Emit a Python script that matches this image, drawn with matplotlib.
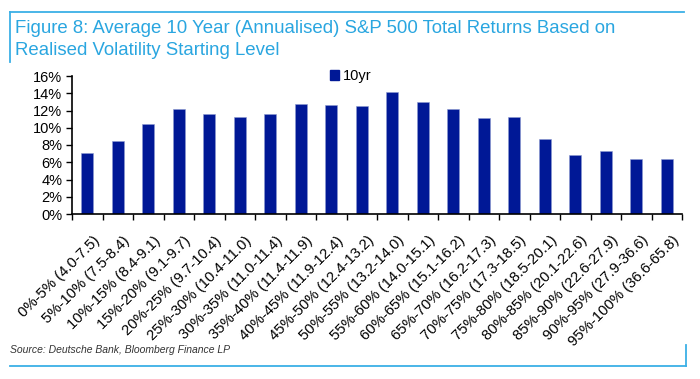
import matplotlib
matplotlib.use("Agg")
import matplotlib.pyplot as plt
from matplotlib.ticker import FixedLocator, FuncFormatter
from matplotlib.lines import Line2D
from matplotlib.patches import Patch
import matplotlib.transforms as mtransforms

categories = ["0%-5% (4.0-7.5)", "5%-10% (7.5-8.4)", "10%-15% (8.4-9.1)", "15%-20% (9.1-9.7)",
              "20%-25% (9.7-10.4)", "25%-30% (10.4-11.0)", "30%-35% (11.0-11.4)", "35%-40% (11.4-11.9)",
              "40%-45% (11.9-12.4)", "45%-50% (12.4-13.2)", "50%-55% (13.2-14.0)", "55%-60% (14.0-15.1)",
              "60%-65% (15.1-16.2)", "65%-70% (16.2-17.3)", "70%-75% (17.3-18.5)", "75%-80% (18.5-20.1)",
              "80%-85% (20.1-22.6)", "85%-90% (22.6-27.9)", "90%-95% (27.9-36.6)", "95%-100% (36.6-65.8)"]
values_10yr = [7.1, 8.45, 10.4, 12.2, 11.6, 11.3, 11.55, 12.75, 12.6, 12.5,
               14.2, 13.0, 12.15, 11.15, 11.3, 8.65, 6.85, 7.3, 6.35, 6.35]
yticks = [0, 2, 4, 6, 8, 10, 12, 14, 16]
series_name = "10yr"

plt.rcParams['font.family'] = ['Liberation Sans', 'DejaVu Sans']

W, H = 700, 379
fig = plt.figure(figsize=(W / 100, H / 100), dpi=100)
ax = fig.add_axes([72 / W, 1 - 214 / H, (682 - 72) / W, (214 - 76) / H])

bar_color = "#001896"
x = list(range(len(categories)))
ax.bar(x, values_10yr, width=0.4, color=bar_color, edgecolor="#8d9ad0", linewidth=0.4, zorder=2)

ax.set_xlim(-0.5, len(categories) - 0.5)
ax.set_ylim(0, 16)
ax.set_yticks(yticks)
ax.yaxis.set_major_formatter(FuncFormatter(lambda v, p: f"{int(v)}%"))
ax.tick_params(axis='y', direction='out', length=4, width=1, pad=3, labelsize=10.5, color='black')

# major ticks at category boundaries (no labels), minor ticks at centers (labels)
ax.xaxis.set_major_locator(FixedLocator([i - 0.5 for i in range(len(categories) + 1)]))
ax.xaxis.set_major_formatter(FuncFormatter(lambda v, p: ""))
ax.set_xticks(x, minor=True)
ax.set_xticklabels(categories, minor=True, rotation=45, ha='right', va='top',
                   rotation_mode='anchor', fontsize=10.7)
ax.tick_params(axis='x', which='major', direction='out', length=4, width=1, color='black')
ax.tick_params(axis='x', which='minor', length=0, pad=14)
offset = mtransforms.ScaledTranslation(5 / 100, 0, fig.dpi_scale_trans)
for lab in ax.xaxis.get_minorticklabels():
    lab.set_transform(lab.get_transform() + offset)

for s in ['top', 'right']:
    ax.spines[s].set_visible(False)
for s in ['left', 'bottom']:
    ax.spines[s].set_linewidth(1.2)
    ax.spines[s].set_color('black')

leg = ax.legend(handles=[Patch(facecolor=bar_color, edgecolor=bar_color)], labels=[series_name],
                loc='upper left', bbox_to_anchor=((330 - 72) / (682 - 72), 1.05),
                frameon=False, fontsize=10.5, handlelength=0.6, handleheight=0.6,
                handletextpad=0.3, borderpad=0, borderaxespad=0)

# title and frame
title_color = "#2aa6e0"
fig.text(15 / W, 1 - 33 / H, "Figure 8: Average 10 Year (Annualised) S&P 500 Total Returns Based on",
         color=title_color, fontsize=13.4, ha='left', va='baseline')
fig.text(15 / W, 1 - 55 / H, "Realised Volatility Starting Level",
         color=title_color, fontsize=13.4, ha='left', va='baseline')
fig.text(10 / W, 1 - 350 / H, "Source: Deutsche Bank, Bloomberg Finance LP", style='italic',
         color='#333333', fontsize=7.5, ha='left', va='center')

line_kw = dict(color="#3bb0e6", linewidth=1.3, transform=fig.transFigure)
fig.add_artist(Line2D([10 / W, 684 / W], [1 - 12 / H, 1 - 12 / H], **line_kw))
fig.add_artist(Line2D([10 / W, 10 / W], [1 - 12 / H, 1 - 62 / H], **line_kw))
fig.add_artist(Line2D([10 / W, 686 / W], [1 - 366 / H, 1 - 366 / H], **line_kw))
fig.add_artist(Line2D([686 / W, 686 / W], [1 - 366 / H, 1 - 345 / H], **line_kw))

fig.savefig("out.png", dpi=100)
